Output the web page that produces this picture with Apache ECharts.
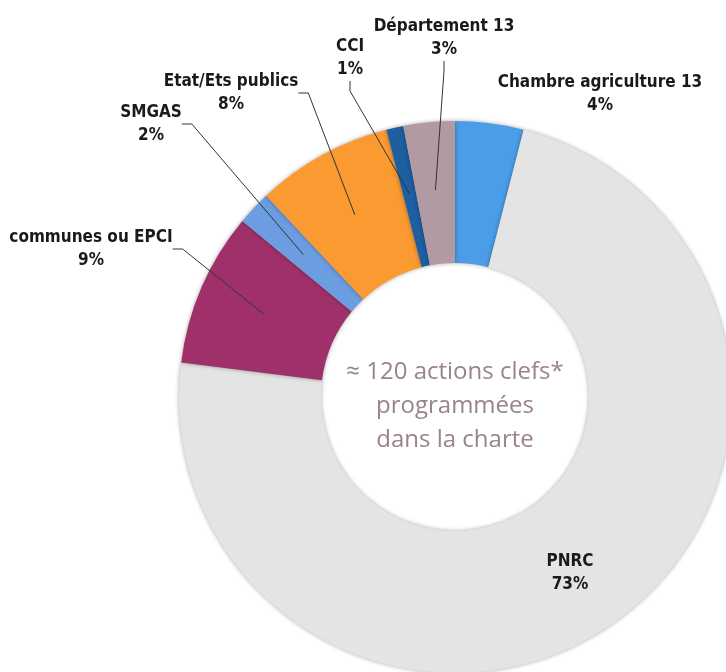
<!DOCTYPE html>
<html>
<head>
<meta charset="utf-8">
<script src="https://cdn.jsdelivr.net/npm/echarts@6/dist/echarts.min.js"></script>
<style>
  html, body { margin: 0; padding: 0; background: #fff; }
  #chart { width: 726px; height: 672px; }
</style>
</head>
<body>
<div id="chart"></div>
<script>
// données (parts des actions clefs)
let names   = ['Chambre agriculture 13', 'PNRC', 'communes ou EPCI', 'SMGAS', 'Etat/Ets publics', 'CCI', 'Département 13'];
let values  = [4, 73, 9, 2, 8, 1, 3];
let colors  = ['#4a9de6', '#e4e4e4', '#a0306a', '#6c9de0', '#fa9a30', '#1d5fa0', '#b19aa3'];
let centerLines = ['≈ 120 actions clefs*', 'programmées', 'dans la charte'];

// mise en page des étiquettes (centre du bloc de texte)
let labelPos = [[600, 94], [570, 573], [91, 249], [151, 124], [231, 93], [350, 58], [444, 38]];
let noLine   = [true, true, false, false, false, false, false];

let cx = 455, cy = 397;

let chart = echarts.init(document.getElementById('chart'));

let mainData = names.map((n, i) => ({
    name: n,
    value: values[i],
    itemStyle: { color: colors[i] }
}));

let labelData = names.map((n, i) => ({
    name: n,
    value: values[i],
    labelLine: { show: !noLine[i] }
}));

let option = {
    animation: false,
    graphic: [{
        type: 'text',
        x: cx,
        y: 355,
        z: 10,
        style: {
            text: centerLines.join('\n'),
            align: 'center',
            fill: '#9a838c',
            font: '24px "Open Sans"',
            lineHeight: 34
        }
    }],
    series: [
        {
            type: 'pie',
            z: 2,
            center: [cx, cy],
            radius: [134, 276],
            startAngle: 90,
            clockwise: true,
            silent: true,
            label: { show: false },
            labelLine: { show: false },
            itemStyle: {
                shadowBlur: 4,
                shadowColor: 'rgba(0,0,0,0.35)'
            },
            data: mainData
        },
        {
            type: 'pie',
            z: 5,
            center: [cx, cy],
            radius: [134, 208],
            startAngle: 90,
            clockwise: true,
            silent: true,
            avoidLabelOverlap: false,
            itemStyle: { color: 'rgba(0,0,0,0)' },
            label: {
                show: true,
                position: 'outside',
                formatter: p => p.name + '\n' + p.value + '%',
                fontFamily: '"DejaVu Sans Condensed", "DejaVu Sans", sans-serif',
                fontWeight: 'bold',
                fontSize: 17,
                lineHeight: 23,
                color: '#1a1a1a'
            },
            labelLine: {
                show: true,
                length: 10,
                length2: 10,
                lineStyle: { color: '#333333', width: 1 }
            },
            labelLayout: p => ({
                x: labelPos[p.dataIndex][0],
                y: labelPos[p.dataIndex][1],
                align: 'center',
                verticalAlign: 'middle'
            }),
            data: labelData
        }
    ]
};

chart.setOption(option);
</script>
</body>
</html>
